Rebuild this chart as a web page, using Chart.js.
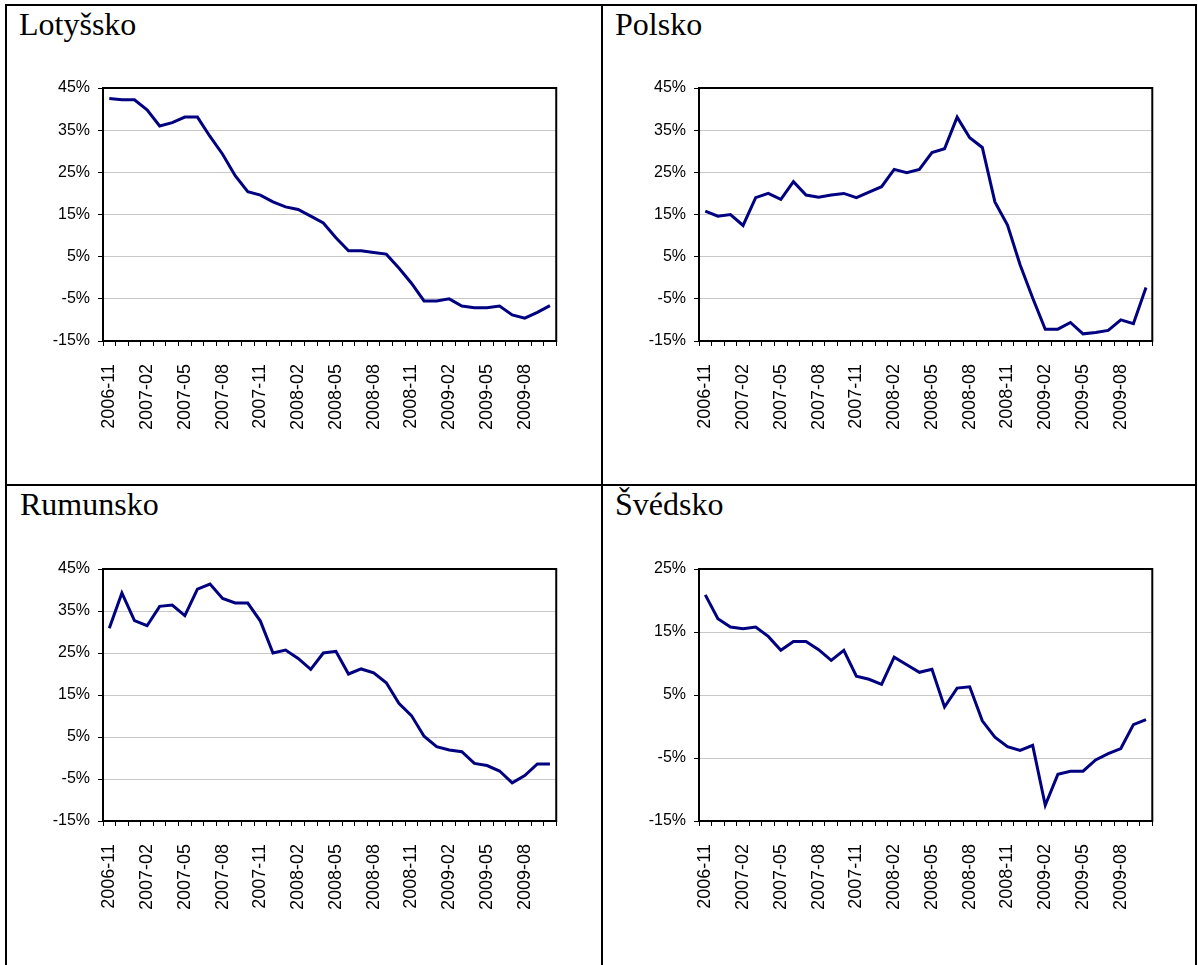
<!DOCTYPE html>
<html>
<head>
<meta charset="utf-8">
<title>Lotyšsko, Polsko, Rumunsko, Švédsko</title>
<script src="https://cdn.jsdelivr.net/npm/chart.js@4.4.1/dist/chart.umd.min.js"></script>
<style>
  body { margin: 0; background: #fff; width: 1198px; height: 965px; position: relative; overflow: hidden; }
  .rule { position: absolute; background: #000; }
  .title { position: absolute; font-family: "Liberation Serif", "Times New Roman", serif; font-size: 32px; line-height: 1; color: #000; }
  .box { position: absolute; width: 570px; height: 410px; }
</style>
</head>
<body>
<!-- table frame -->
<div class="rule" style="left:5px;top:4px;width:1192px;height:2px"></div>
<div class="rule" style="left:5px;top:484px;width:1192px;height:2px"></div>
<div class="rule" style="left:5px;top:4px;width:2px;height:961px"></div>
<div class="rule" style="left:601px;top:4px;width:2px;height:961px"></div>
<div class="rule" style="left:1195px;top:4px;width:2px;height:961px"></div>

<div class="title" style="left:19px;top:8px">Lotyšsko</div>
<div class="title" style="left:615px;top:8px">Polsko</div>
<div class="title" style="left:20px;top:488px">Rumunsko</div>
<div class="title" style="left:615px;top:488px">Švédsko</div>

<div class="box" style="left:20px;top:60px"><canvas id="lv" width="570" height="410"></canvas></div>
<div class="box" style="left:616px;top:60px"><canvas id="pl" width="570" height="410"></canvas></div>
<div class="box" style="left:20px;top:541px"><canvas id="ro" width="570" height="410"></canvas></div>
<div class="box" style="left:616px;top:541px"><canvas id="se" width="570" height="410"></canvas></div>

<script>
// months on the x axis, 2006-11 .. 2009-10
const months = [
  "2006-11", "2006-12", "2007-01", "2007-02", "2007-03", "2007-04",
  "2007-05", "2007-06", "2007-07", "2007-08", "2007-09", "2007-10",
  "2007-11", "2007-12", "2008-01", "2008-02", "2008-03", "2008-04",
  "2008-05", "2008-06", "2008-07", "2008-08", "2008-09", "2008-10",
  "2008-11", "2008-12", "2009-01", "2009-02", "2009-03", "2009-04",
  "2009-05", "2009-06", "2009-07", "2009-08", "2009-09", "2009-10"
];
// only every third month gets a label
const shownMonths = [
  "2006-11", "2007-02", "2007-05", "2007-08", "2007-11", "2008-02",
  "2008-05", "2008-08", "2008-11", "2009-02", "2009-05", "2009-08"
];

// values in %
const lotyssko = [
  42.5, 42.2, 42.2, 39.8, 36.0, 36.8, 38.1, 38.1, 33.5, 29.3, 24.2, 20.4,
  19.6, 18.0, 16.8, 16.2, 14.6, 13.0, 9.5, 6.4, 6.4, 6.0, 5.6, 2.3,
  -1.3, -5.5, -5.5, -5.0, -6.7, -7.1, -7.1, -6.7, -8.8, -9.6, -8.2, -6.6
];
const polsko = [
  15.8, 14.6, 15.0, 12.4, 19.0, 20.0, 18.6, 22.8, 19.6, 19.1, 19.6, 20.0,
  19.0, 20.3, 21.6, 25.7, 24.9, 25.7, 29.7, 30.6, 38.1, 33.2, 30.9, 18.0,
  12.5, 3.1, -4.8, -12.2, -12.2, -10.6, -13.3, -13.0, -12.5, -10.0, -10.9, -2.3
];
const rumunsko = [
  30.9, 39.3, 32.7, 31.5, 36.1, 36.4, 33.9, 40.2, 41.4, 38.0, 36.9, 36.9,
  32.6, 25.0, 25.7, 23.7, 21.1, 25.0, 25.4, 20.0, 21.2, 20.3, 17.9, 13.0,
  10.1, 5.2, 2.7, 1.9, 1.5, -1.3, -1.8, -3.1, -5.9, -4.2, -1.4, -1.4
];
const svedsko = [
  20.9, 17.1, 15.8, 15.5, 15.8, 14.3, 12.1, 13.5, 13.5, 12.2, 10.5, 12.1,
  8.0, 7.5, 6.7, 11.0, 9.8, 8.6, 9.1, 3.1, 6.1, 6.3, 0.9, -1.7,
  -3.2, -3.8, -3.0, -12.5, -7.6, -7.1, -7.1, -5.3, -4.3, -3.5, 0.3, 1.1
];

// y tick labels
const ticksWide = [-15, -5, 5, 15, 25, 35, 45];
const ticksNarrow = [-15, -5, 5, 15, 25];

// dark frame round the plot area, like the spreadsheet chart
const plotFrame = {
  id: "plotFrame",
  afterDraw(chart) {
    const a = chart.chartArea;
    const ctx = chart.ctx;
    ctx.save();
    ctx.strokeStyle = "#000";
    ctx.lineWidth = 2;
    ctx.strokeRect(a.left, a.top, a.right - a.left, a.bottom - a.top);
    ctx.restore();
  }
};

function drawPanel(id, values, yTicks, lay) {
  new Chart(document.getElementById(id).getContext("2d"), {
    type: "line",
    data: {
      labels: months,
      datasets: [{
        data: values,
        borderColor: "#000080",
        borderWidth: 3,
        pointRadius: 0,
        tension: 0,
        fill: false
      }]
    },
    options: {
      responsive: false,
      animation: false,
      layout: { padding: { top: lay.top, right: lay.right, left: 0, bottom: 0 } },
      plugins: { legend: { display: false }, tooltip: { enabled: false } },
      scales: {
        x: {
          offset: true,
          grid: { offset: true, drawOnChartArea: false, tickLength: 5, tickColor: "#000" },
          border: { color: "#000", width: 2 },
          ticks: {
            autoSkip: false,
            minRotation: 90,
            maxRotation: 90,
            padding: 18,
            color: "#000",
            font: { family: "Liberation Sans", size: 18 },
            callback: function (v, i) {
              return shownMonths.includes(months[i]) ? months[i] : "";
            }
          },
          afterFit: function (s) { s.height = lay.xh; }
        },
        y: {
          min: yTicks[0],
          max: yTicks[yTicks.length - 1],
          afterBuildTicks: function (s) { s.ticks = yTicks.map(v => ({ value: v })); },
          grid: { color: "#c8c8c8", tickColor: "#000", tickLength: 5 },
          border: { color: "#000", width: 2 },
          ticks: {
            padding: 8,
            color: "#000",
            font: { family: "Liberation Sans", size: 16 },
            callback: v => v + "%"
          },
          afterFit: function (s) { s.width = lay.yw; }
        }
      }
    },
    plugins: [plotFrame]
  });
}

drawPanel("lv", lotyssko, ticksWide, { top: 28, right: 33, yw: 83, xh: 129 });
drawPanel("pl", polsko, ticksWide, { top: 28, right: 29, yw: 83, xh: 129 });
drawPanel("ro", rumunsko, ticksWide, { top: 28, right: 33, yw: 83, xh: 130 });
drawPanel("se", svedsko, ticksNarrow, { top: 28, right: 29, yw: 83, xh: 130 });
</script>
</body>
</html>
